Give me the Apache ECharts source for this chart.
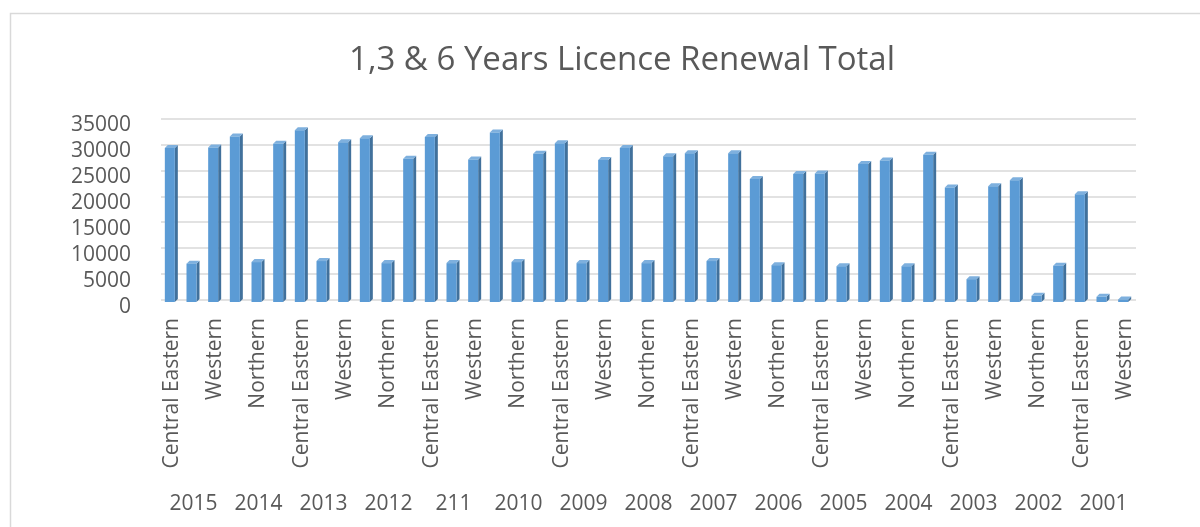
<!DOCTYPE html>
<html>
<head>
<meta charset="utf-8">
<script src="https://cdn.jsdelivr.net/npm/echarts@6/dist/echarts.min.js"></script>
<style>
  html, body { margin: 0; padding: 0; background: #fff; }
  #chart { width: 1200px; height: 527px; }
</style>
</head>
<body>
<div id="chart"></div>
<script>
const years = ['2015', '2014', '2013', '2012', '211', '2010', '2009', '2008',
  '2007', '2006', '2005', '2004', '2003', '2002', '2001'];
const regions = ['Central Eastern', 'Northern', 'Western'];
const centralEastern = [29700, 31900, 33100, 31600, 31800, 32700, 30600, 29700,
  28700, 23700, 24800, 27300, 22100, 23500, 20800];
const northern = [7400, 7700, 7900, 7500, 7500, 7700, 7500, 7500,
  7900, 7100, 6900, 6900, 4400, 1200, 1000];
const western = [29800, 30500, 30800, 27600, 27500, 28600, 27400, 28100,
  28700, 24700, 26600, 28400, 22300, 7000, 500];

// flatten: one category per region inside each year
const categories = [];
const values = [];
years.forEach((y, i) => {
  [centralEastern, northern, western].forEach((arr, r) => {
    categories.push(regions[r]);
    values.push([categories.length - 1, arr[i]]);
  });
});

const textColor = '#595959';
const font = 'Open Sans';

const chart = echarts.init(document.getElementById('chart'));

// fake 3d column: front face, right side, top
const renderColumn = (params, api) => {
  const top = api.coord([api.value(0), api.value(1)]);
  const base = api.coord([api.value(0), 0]);
  const w = 10, dx = 3, dy = 3;
  const x0 = top[0] - w / 2 - 2;
  const yt = top[1] + 2, yb = base[1] + 2;
  return {
    type: 'group',
    children: [
      {
        type: 'polygon',
        shape: { points: [[x0 + w, yt], [x0 + w + dx, yt - dy], [x0 + w + dx, yb - dy], [x0 + w, yb]] },
        style: { fill: '#41719c' },
      },
      {
        type: 'polygon',
        shape: { points: [[x0, yt], [x0 + dx, yt - dy], [x0 + w + dx, yt - dy], [x0 + w, yt]] },
        style: { fill: '#7eb0de' },
      },
      {
        type: 'rect',
        shape: { x: x0, y: yt, width: w, height: yb - yt },
        style: { fill: '#5b9bd5' },
      },
    ],
  };
};

const option = {
  animation: false,
  textStyle: { fontFamily: font },
  graphic: [
    {
      type: 'rect',
      shape: { x: 10.5, y: 13.5, width: 1240, height: 600 },
      style: { fill: null, stroke: '#d9d9d9', lineWidth: 1.5 },
    },
  ],
  title: {
    text: '1,3 & 6 Years Licence Renewal Total',
    left: 617,
    textAlign: 'center',
    top: 39,
    textStyle: { fontFamily: font, fontSize: 33, fontWeight: 'normal', color: textColor },
  },
  grid: { left: 161, right: 64, top: 118.5, bottom: 227 },
  xAxis: [
    {
      type: 'category',
      data: categories,
      axisLine: { show: false },
      axisTick: { show: false },
      axisLabel: {
        interval: 1,
        rotate: 90,
        margin: 18,
        fontFamily: font,
        fontSize: 21,
        color: textColor,
      },
    },
    {
      type: 'category',
      data: years,
      position: 'bottom',
      axisLine: { show: false },
      axisTick: { show: false },
      axisLabel: {
        interval: 0,
        margin: 194,
        fontFamily: font,
        fontSize: 21,
        color: textColor,
      },
    },
  ],
  yAxis: {
    type: 'value',
    min: 0,
    max: 35000,
    interval: 5000,
    axisLine: { show: false },
    axisTick: { show: false },
    splitLine: { lineStyle: { color: '#d9d9d9', width: 1.5 } },
    axisLabel: {
      margin: 30,
      fontFamily: font,
      fontSize: 21,
      color: textColor,
      verticalAlign: 'top',
      lineHeight: 14,
      formatter: (v) => String(v),
    },
  },
  series: [
    {
      type: 'custom',
      name: 'Licence Renewal Total',
      renderItem: renderColumn,
      encode: { x: 0, y: 1 },
      data: values,
    },
  ],
};

chart.setOption(option);
</script>
</body>
</html>
